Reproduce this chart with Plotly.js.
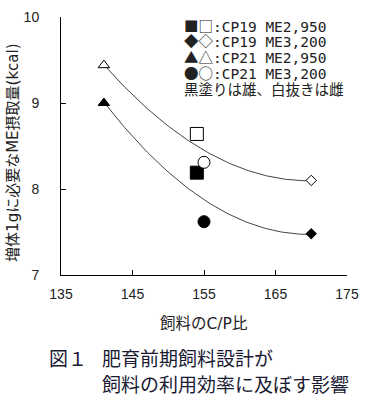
<!DOCTYPE html>
<html><head><meta charset="utf-8">
<script src="https://cdn.plot.ly/plotly-3.0.1.min.js"></script>
<style>body{margin:0;background:#fff}#c{width:367px;height:401px}</style>
</head><body><div id="c"></div>
<script>
// Data (C/P ratio vs ME intake per 1 g gain)
const groups = ['CP19 ME2,950','CP19 ME3,200','CP21 ME2,950','CP21 ME3,200'];
const legendSymbols = ['■□','◆◇','▲△','●○'];
const legendNote = '黒塗りは雄、白抜きは雌';
const symbols = ['square','diamond','triangle-up','circle'];
const cpRatio = [154, 170, 141, 155];
const maleME = [8.19, 7.48, 9.00, 7.62];
const femaleME = [8.64, 8.10, 9.44, 8.31];
const xTicks = [135,145,155,165,175];
const yTicks = [7,8,9,10];

function quadFit(xs, ys){
  const n = xs.length, m = xs.reduce((s,v)=>s+v,0)/n;
  const u = xs.map(v=>v-m);
  let S=[0,0,0,0,0], T=[0,0,0];
  for(let i=0;i<n;i++){for(let k=0;k<5;k++)S[k]+=Math.pow(u[i],k);for(let k=0;k<3;k++)T[k]+=ys[i]*Math.pow(u[i],k);}
  const A=[[S[0],S[1],S[2],T[0]],[S[1],S[2],S[3],T[1]],[S[2],S[3],S[4],T[2]]];
  for(let i=0;i<3;i++){for(let j=i+1;j<3;j++){const f=A[j][i]/A[i][i];for(let k=i;k<4;k++)A[j][k]-=f*A[i][k];}}
  const c=[0,0,0];
  for(let i=2;i>=0;i--){let s=A[i][3];for(let k=i+1;k<3;k++)s-=A[i][k]*c[k];c[i]=s/A[i][i];}
  return x=>c[0]+c[1]*(x-m)+c[2]*(x-m)*(x-m);
}
function curve(ys){
  const f = quadFit(cpRatio, ys);
  const lo = Math.min(...cpRatio), hi = Math.max(...cpRatio);
  const xs=[], yv=[];
  for(let i=0;i<=100;i++){const x=lo+(hi-lo)*i/100;xs.push(x);yv.push(f(x));}
  return {x:xs,y:yv,mode:'lines',line:{color:'#444',width:1},hoverinfo:'skip',showlegend:false};
}
const sizes = {square:13, diamond:8, 'triangle-up':10, circle:12};
const traces = [curve(femaleME), curve(maleME)];
groups.forEach((g,i)=>{
  traces.push({x:[cpRatio[i]],y:[maleME[i]],mode:'markers',name:g+' 雄',showlegend:false,
    marker:{symbol:symbols[i],size:sizes[symbols[i]],color:'#000',line:{color:'#000',width:1}}});
  traces.push({x:[cpRatio[i]],y:[femaleME[i]],mode:'markers',name:g+' 雌',showlegend:false,
    marker:{symbol:symbols[i],size:sizes[symbols[i]],color:'#fff',line:{color:'#000',width:1}}});
});
const F = '"DejaVu Sans", "Noto Sans CJK JP", sans-serif';
const FM = '"DejaVu Sans Mono", "Noto Sans CJK JP", monospace';
const FC = '"Noto Sans CJK JP", sans-serif';
const legY = [9.907, 9.721, 9.535, 9.349, 9.174];
const legTexts = groups.map((g,i)=>'<span style="font-family:\'Noto Sans CJK JP\'">'+legendSymbols[i]+'</span>:'+g).concat([legendNote]);
const ann = legTexts.map((t,i)=>({x:151.9,y:legY[i],xref:'x',yref:'y',text:t,showarrow:false,align:'left',
  xanchor:'left',yanchor:'middle',font:{family:i<4?FM:FC,size:14.5,color:'#222'}}));
ann.push({x:-0.168,y:0.473,xref:'paper',yref:'paper',text:'増体1gに必要なME摂取量(kcal)',textangle:-90,
  showarrow:false,xanchor:'center',yanchor:'middle',font:{family:F,size:15,color:'#222'}});
ann.push({x:0.5,y:-0.19,xref:'paper',yref:'paper',text:'飼料のC/P比',showarrow:false,
  xanchor:'center',yanchor:'middle',font:{family:F,size:15.5,color:'#222'}});
const capY1 = -0.318, capY2 = -0.419;
ann.push({x:-0.049,y:capY1,xref:'paper',yref:'paper',yanchor:'middle',xanchor:'left',text:'図１',showarrow:false,
  font:{family:FC,size:19,color:'#1a1a33'}});
ann.push({x:0.136,y:capY1,xref:'paper',yref:'paper',yanchor:'middle',xanchor:'left',text:'肥育前期飼料設計が',showarrow:false,
  font:{family:FC,size:19,color:'#1a1a33'}});
ann.push({x:0.136,y:capY2,xref:'paper',yref:'paper',yanchor:'middle',xanchor:'left',text:'飼料の利用効率に及ぼす影響',showarrow:false,
  font:{family:FC,size:19,color:'#1a1a33'}});
const layout = {
  width:367,height:401,margin:{l:61,r:20,t:17,b:126},
  paper_bgcolor:'#fff',plot_bgcolor:'#fff',showlegend:false,
  xaxis:{range:[135,175],tickvals:xTicks,ticktext:xTicks.map(String),ticks:'inside',ticklen:5,tickcolor:'#000',
    showline:true,linecolor:'#000',linewidth:1,showgrid:false,zeroline:false,
    tickfont:{family:'"Liberation Sans", sans-serif',size:14,color:'#222'},ticklabelstandoff:6},
  yaxis:{range:[7,10],tickvals:yTicks,ticktext:yTicks.map(String),ticks:'inside',ticklen:5,tickcolor:'#000',
    showline:true,linecolor:'#000',linewidth:1,showgrid:false,zeroline:false,
    tickfont:{family:'"Liberation Sans", sans-serif',size:14,color:'#222'},ticklabelstandoff:18},
  annotations:ann
};
Plotly.newPlot('c',traces,layout,{staticPlot:true,displayModeBar:false});
</script></body></html>
